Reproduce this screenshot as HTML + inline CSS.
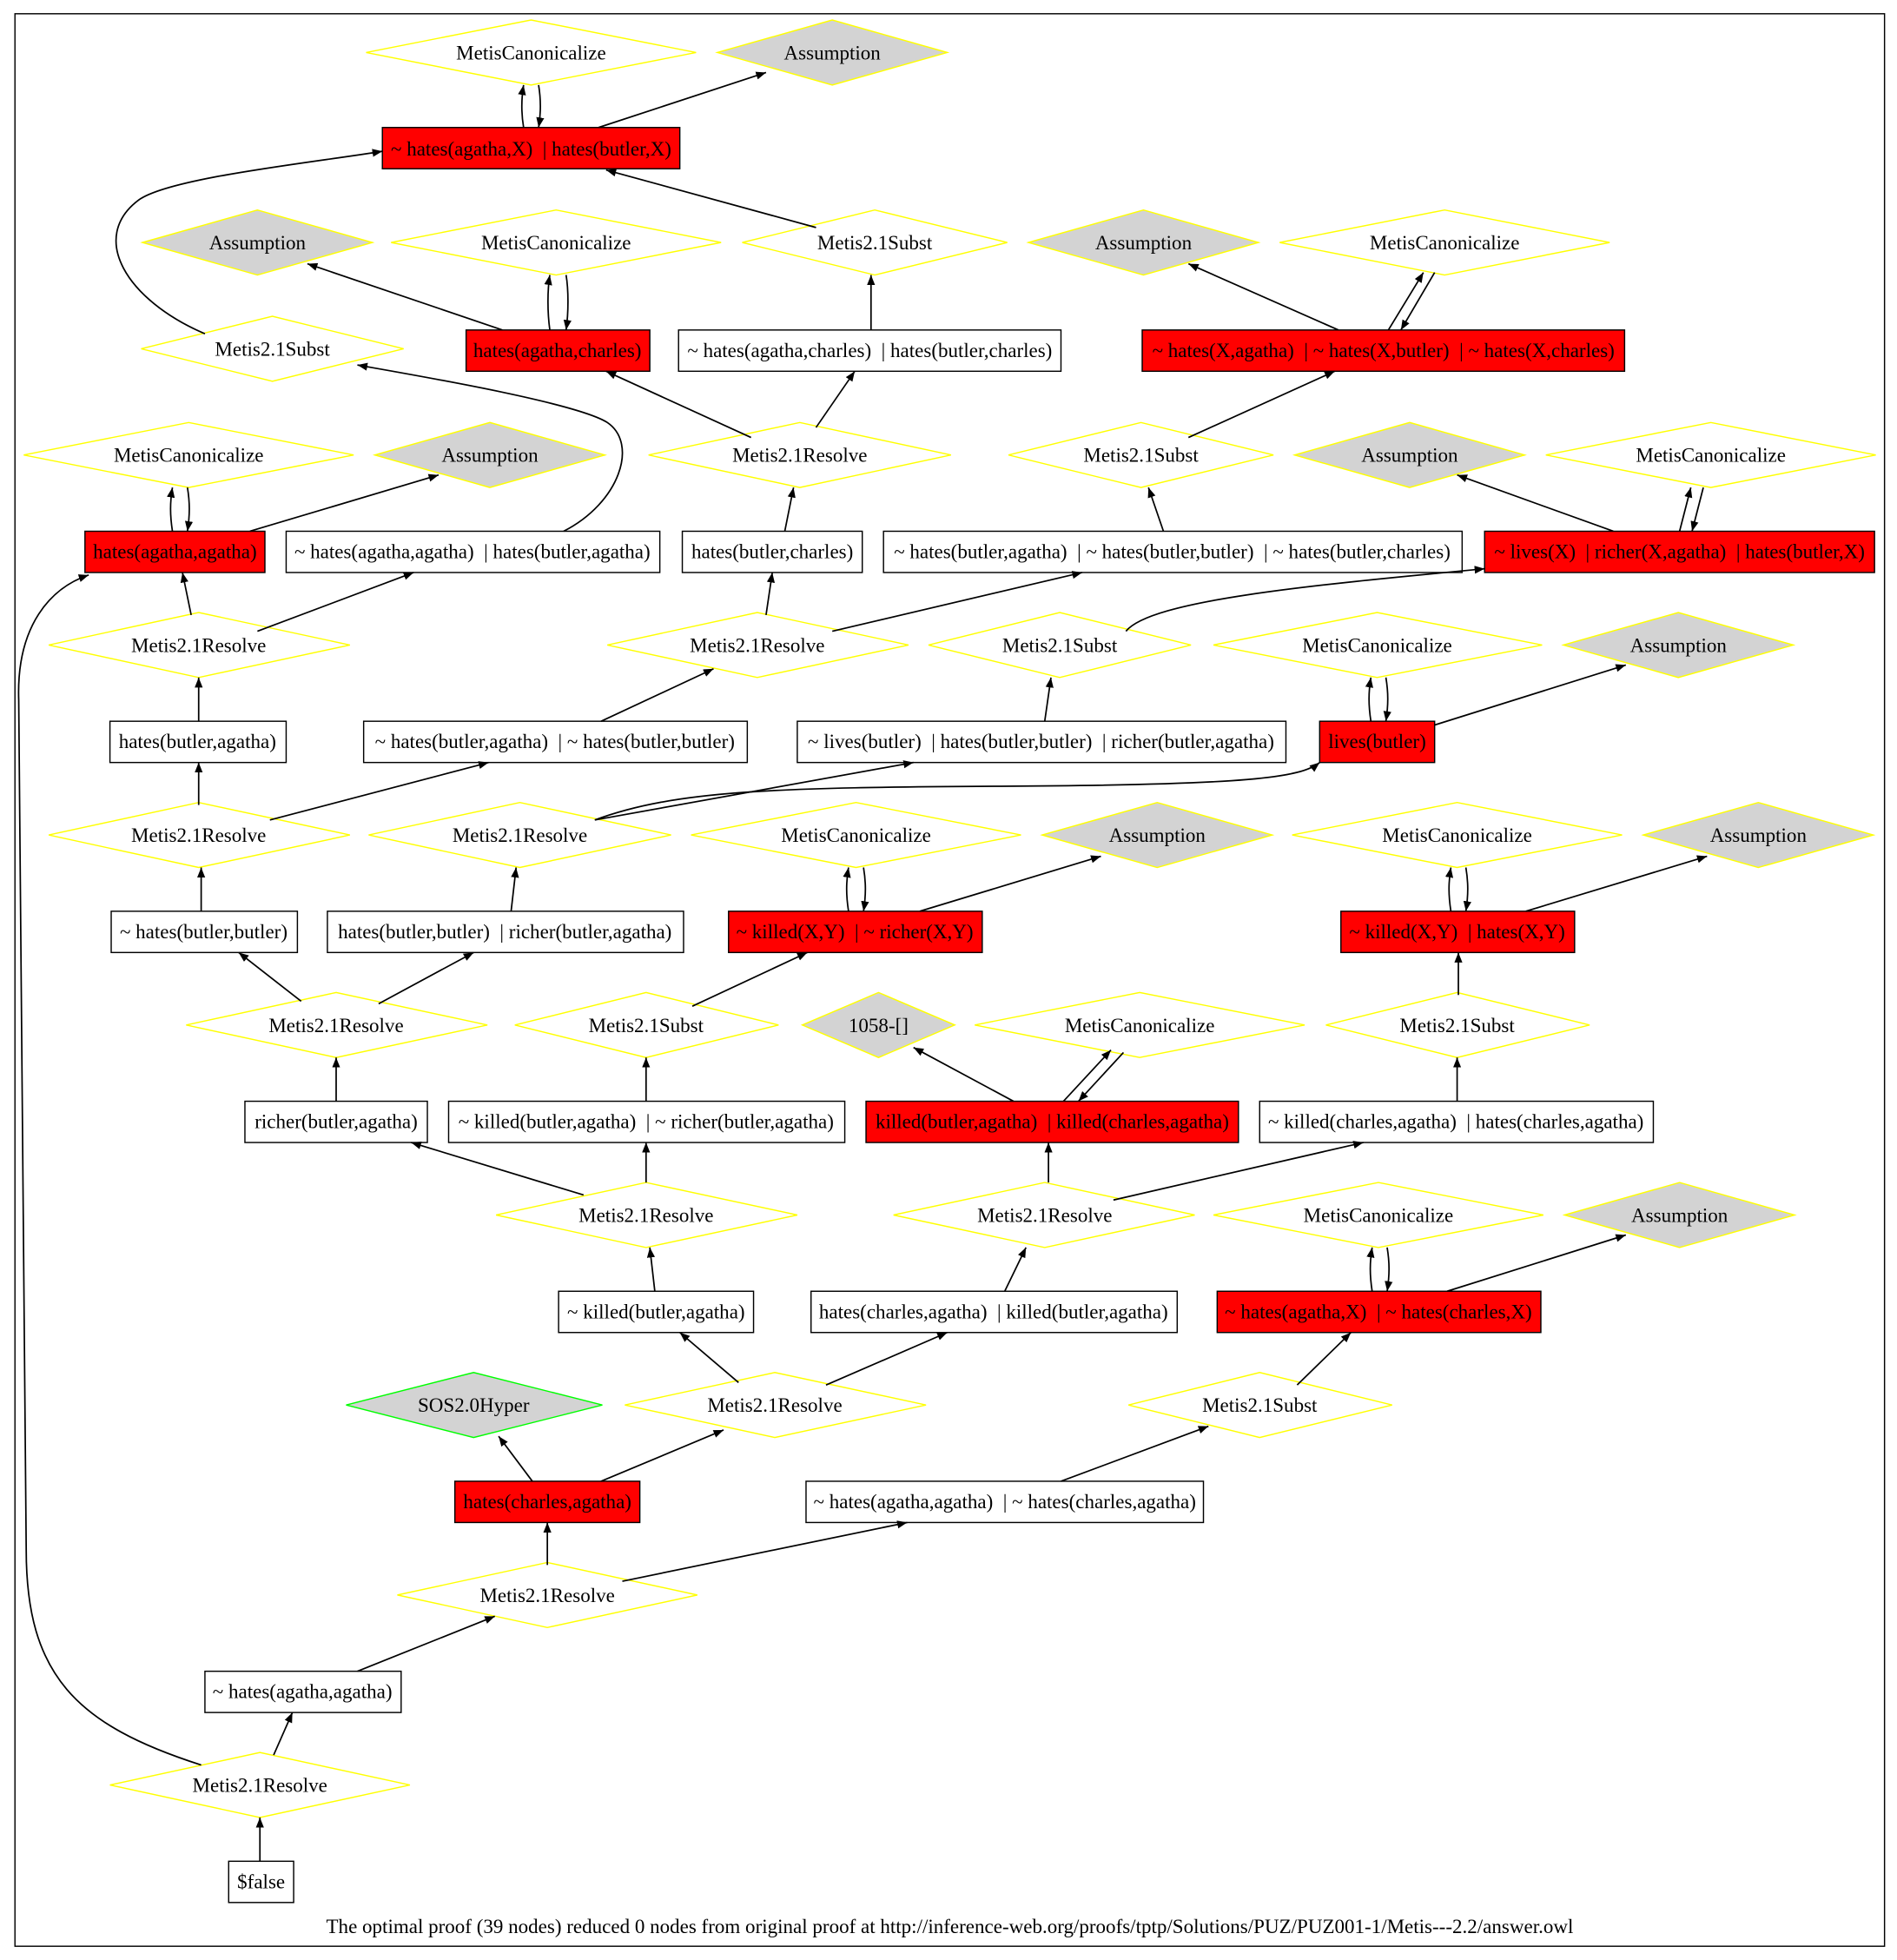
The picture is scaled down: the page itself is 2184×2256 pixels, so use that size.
<!DOCTYPE html>
<html><head><meta charset="utf-8"><style>
html,body{margin:0;padding:0;background:#fff;}
svg{display:block}
text{font-family:"Liberation Serif",serif;font-size:16px;text-anchor:middle;dominant-baseline:central;fill:#000;white-space:pre}
.y{fill:#fff;stroke:#ffff00;stroke-width:1}
.g{fill:#d3d3d3;stroke:#ffff00;stroke-width:1}
.r{fill:#ff0000;stroke:#000;stroke-width:1}
.w{fill:#fff;stroke:#000;stroke-width:1}
.e{fill:none;stroke:#000;stroke-width:1.2;marker-end:url(#a)}
</style></head><body>
<svg width="2184" height="2256" viewBox="0 0 1516 1568" xmlns="http://www.w3.org/2000/svg" xml:space="preserve">
<defs><marker id="a" viewBox="0 0 10 10" refX="10" refY="5" markerWidth="8" markerHeight="8" markerUnits="userSpaceOnUse" orient="auto"><path d="M0,1 L10,5 L0,9 z" fill="#000"/></marker></defs>
<rect x="11" y="11" width="1496" height="1546" fill="#fff" stroke="#000"/>
<g id="nodes">
<polygon class="y" points="292,42 424,16 556,42 424,68"/><text x="424" y="42">MetisCanonicalize</text>
<polygon class="g" points="573,42 665,16 757,42 665,68"/><text x="665" y="42">Assumption</text>
<rect class="r" x="305" y="102" width="238" height="33"/><text x="424" y="119">~ hates(agatha,X)  | hates(butler,X)</text>

<polygon class="g" points="113,194 205,168 297,194 205,220"/><text x="205" y="194">Assumption</text>
<polygon class="y" points="312,194 444,168 576,194 444,220"/><text x="444" y="194">MetisCanonicalize</text>
<polygon class="y" points="593,194 699,168 805,194 699,220"/><text x="699" y="194">Metis2.1Subst</text>
<polygon class="g" points="822,194 914,168 1006,194 914,220"/><text x="914" y="194">Assumption</text>
<polygon class="y" points="1023,194 1155,168 1287,194 1155,220"/><text x="1155" y="194">MetisCanonicalize</text>

<polygon class="y" points="112,279 217,253 322,279 217,305"/><text x="217" y="279">Metis2.1Subst</text>
<rect class="r" x="372" y="264" width="147" height="33"/><text x="445" y="280">hates(agatha,charles)</text>
<rect class="w" x="542" y="264" width="306" height="33"/><text x="695" y="280">~ hates(agatha,charles)  | hates(butler,charles)</text>
<rect class="r" x="913" y="264" width="386" height="33"/><text x="1106" y="280">~ hates(X,agatha)  | ~ hates(X,butler)  | ~ hates(X,charles)</text>

<polygon class="y" points="18,364 150,338 282,364 150,390"/><text x="150" y="364">MetisCanonicalize</text>
<polygon class="g" points="299,364 391,338 483,364 391,390"/><text x="391" y="364">Assumption</text>
<polygon class="y" points="518,364 639,338 760,364 639,390"/><text x="639" y="364">Metis2.1Resolve</text>
<polygon class="y" points="806,364 912,338 1018,364 912,390"/><text x="912" y="364">Metis2.1Subst</text>
<polygon class="g" points="1035,364 1127,338 1219,364 1127,390"/><text x="1127" y="364">Assumption</text>
<polygon class="y" points="1236,364 1368,338 1500,364 1368,390"/><text x="1368" y="364">MetisCanonicalize</text>

<rect class="r" x="67" y="425" width="144" height="33"/><text x="139" y="441">hates(agatha,agatha)</text>
<rect class="w" x="228" y="425" width="299" height="33"/><text x="377" y="441">~ hates(agatha,agatha)  | hates(butler,agatha)</text>
<rect class="w" x="545" y="425" width="144" height="33"/><text x="617" y="441">hates(butler,charles)</text>
<rect class="w" x="706" y="425" width="463" height="33"/><text x="937" y="441">~ hates(butler,agatha)  | ~ hates(butler,butler)  | ~ hates(butler,charles)</text>
<rect class="r" x="1187" y="425" width="312" height="33"/><text x="1343" y="441">~ lives(X)  | richer(X,agatha)  | hates(butler,X)</text>

<polygon class="y" points="38,516 158,490 279,516 158,542"/><text x="158" y="516">Metis2.1Resolve</text>
<polygon class="y" points="485,516 605,490 726,516 605,542"/><text x="605" y="516">Metis2.1Resolve</text>
<polygon class="y" points="742,516 847,490 952,516 847,542"/><text x="847" y="516">Metis2.1Subst</text>
<polygon class="y" points="970,516 1101,490 1233,516 1101,542"/><text x="1101" y="516">MetisCanonicalize</text>
<polygon class="g" points="1250,516 1342,490 1434,516 1342,542"/><text x="1342" y="516">Assumption</text>

<rect class="w" x="87" y="577" width="141" height="33"/><text x="157" y="593">hates(butler,agatha)</text>
<rect class="w" x="290" y="577" width="307" height="33"/><text x="443" y="593">~ hates(butler,agatha)  | ~ hates(butler,butler)</text>
<rect class="w" x="637" y="577" width="391" height="33"/><text x="832" y="593">~ lives(butler)  | hates(butler,butler)  | richer(butler,agatha)</text>
<rect class="r" x="1055" y="577" width="92" height="33"/><text x="1101" y="593">lives(butler)</text>

<polygon class="y" points="38,668 158,642 279,668 158,694"/><text x="158" y="668">Metis2.1Resolve</text>
<polygon class="y" points="294,668 415,642 536,668 415,694"/><text x="415" y="668">Metis2.1Resolve</text>
<polygon class="y" points="552,668 684,642 816,668 684,694"/><text x="684" y="668">MetisCanonicalize</text>
<polygon class="g" points="833,668 925,642 1017,668 925,694"/><text x="925" y="668">Assumption</text>
<polygon class="y" points="1033,668 1165,642 1297,668 1165,694"/><text x="1165" y="668">MetisCanonicalize</text>
<polygon class="g" points="1314,668 1406,642 1498,668 1406,694"/><text x="1406" y="668">Assumption</text>

<rect class="w" x="88" y="729" width="149" height="33"/><text x="162" y="745">~ hates(butler,butler)</text>
<rect class="w" x="261" y="729" width="285" height="33"/><text x="403" y="745">hates(butler,butler)  | richer(butler,agatha)</text>
<rect class="r" x="582" y="729" width="203" height="33"/><text x="683" y="745">~ killed(X,Y)  | ~ richer(X,Y)</text>
<rect class="r" x="1072" y="729" width="187" height="33"/><text x="1165" y="745">~ killed(X,Y)  | hates(X,Y)</text>

<polygon class="y" points="148,820 268,794 389,820 268,846"/><text x="268" y="820">Metis2.1Resolve</text>
<polygon class="y" points="411,820 516,794 622,820 516,846"/><text x="516" y="820">Metis2.1Subst</text>
<polygon class="g" points="641,820 702,794 763,820 702,846"/><text x="702" y="820">1058-[]</text>
<polygon class="y" points="779,820 911,794 1043,820 911,846"/><text x="911" y="820">MetisCanonicalize</text>
<polygon class="y" points="1060,820 1165,794 1271,820 1165,846"/><text x="1165" y="820">Metis2.1Subst</text>

<rect class="w" x="195" y="881" width="146" height="33"/><text x="268" y="897">richer(butler,agatha)</text>
<rect class="w" x="358" y="881" width="317" height="33"/><text x="516" y="897">~ killed(butler,agatha)  | ~ richer(butler,agatha)</text>
<rect class="r" x="692" y="881" width="298" height="33"/><text x="841" y="897">killed(butler,agatha)  | killed(charles,agatha)</text>
<rect class="w" x="1007" y="881" width="315" height="33"/><text x="1164" y="897">~ killed(charles,agatha)  | hates(charles,agatha)</text>

<polygon class="y" points="396,972 516,946 637,972 516,998"/><text x="516" y="972">Metis2.1Resolve</text>
<polygon class="y" points="714,972 835,946 955,972 835,998"/><text x="835" y="972">Metis2.1Resolve</text>
<polygon class="y" points="970,972 1102,946 1234,972 1102,998"/><text x="1102" y="972">MetisCanonicalize</text>
<polygon class="g" points="1251,972 1343,946 1435,972 1343,998"/><text x="1343" y="972">Assumption</text>

<rect class="w" x="446" y="1033" width="156" height="33"/><text x="524" y="1049">~ killed(butler,agatha)</text>
<rect class="w" x="648" y="1033" width="293" height="33"/><text x="794" y="1049">hates(charles,agatha)  | killed(butler,agatha)</text>
<rect class="r" x="973" y="1033" width="259" height="33"/><text x="1102" y="1049">~ hates(agatha,X)  | ~ hates(charles,X)</text>

<polygon points="276,1124 378,1098 481,1124 378,1150" fill="#d3d3d3" stroke="#00ff00"/><text x="378" y="1124">SOS2.0Hyper</text>
<polygon class="y" points="499,1124 619,1098 740,1124 619,1150"/><text x="619" y="1124">Metis2.1Resolve</text>
<polygon class="y" points="902,1124 1007,1098 1113,1124 1007,1150"/><text x="1007" y="1124">Metis2.1Subst</text>

<rect class="r" x="363" y="1185" width="148" height="33"/><text x="437" y="1201">hates(charles,agatha)</text>
<rect class="w" x="644" y="1185" width="318" height="33"/><text x="803" y="1201">~ hates(agatha,agatha)  | ~ hates(charles,agatha)</text>

<polygon class="y" points="317,1276 437,1250 557,1276 437,1302"/><text x="437" y="1276">Metis2.1Resolve</text>
<rect class="w" x="163" y="1337" width="157" height="33"/><text x="241" y="1353">~ hates(agatha,agatha)</text>
<polygon class="y" points="87,1428 207,1402 327,1428 207,1454"/><text x="207" y="1428">Metis2.1Resolve</text>
<rect class="w" x="182" y="1489" width="52" height="33"/><text x="208" y="1505">$false</text>
<text x="759" y="1541">The optimal proof (39 nodes) reduced 0 nodes from original proof at http://inference-web.org/proofs/tptp/Solutions/PUZ/PUZ001-1/Metis---2.2/answer.owl</text>
</g>
<g id="edges">
<path class="e" d="M418,102 C416,90 416,80 418,68"/>
<path class="e" d="M430,68 C432,80 432,90 430,102"/>
<path class="e" d="M478,102 L612,58"/>
<path class="e" d="M652,182 L484,136"/>
<path class="e" d="M163,267 C100,240 70,190 110,160 C135,142 250,130 305,121"/>
<path class="e" d="M401,264 L245,211"/>
<path class="e" d="M439,264 C437,250 437,232 439,220"/>
<path class="e" d="M452,220 C454,232 454,250 452,264"/>
<path class="e" d="M696,264 L696,220"/>
<path class="e" d="M1070,264 L950,211"/>
<path class="e" d="M1110,264 L1138,218"/>
<path class="e" d="M1147,218 L1120,264"/>
<path class="e" d="M600,350 L484,297"/>
<path class="e" d="M652,342 L683,297"/>
<path class="e" d="M950,350 L1067,297"/>
<path class="e" d="M137,425 C135,412 135,402 137,390"/>
<path class="e" d="M149,390 C151,402 151,412 149,425"/>
<path class="e" d="M199,425 L350,380"/>
<path class="e" d="M450,425 C495,402 510,355 485,338 C460,322 330,300 285,292"/>
<path class="e" d="M627,425 L634,390"/>
<path class="e" d="M930,425 L918,390"/>
<path class="e" d="M1290,425 L1165,380"/>
<path class="e" d="M1343,425 L1352,390"/>
<path class="e" d="M1362,390 L1353,425"/>
<path class="e" d="M152,492 L145,458"/>
<path class="e" d="M205,505 L330,458"/>
<path class="e" d="M612,492 L617,458"/>
<path class="e" d="M665,505 L865,458"/>
<path class="e" d="M900,505 C920,480 1050,468 1187,455"/>
<path class="e" d="M1096,577 C1094,564 1094,554 1096,542"/>
<path class="e" d="M1108,542 C1110,554 1110,564 1108,577"/>
<path class="e" d="M1147,580 L1300,532"/>
<path class="e" d="M158,577 L158,542"/>
<path class="e" d="M480,577 L570,535"/>
<path class="e" d="M835,577 L840,542"/>
<path class="e" d="M158,644 L158,610"/>
<path class="e" d="M215,656 L390,610"/>
<path class="e" d="M475,656 L730,610"/>
<path class="e" d="M475,656 C540,632 620,630 800,629 C1000,628 1040,622 1055,610"/>
<path class="e" d="M160,729 L160,694"/>
<path class="e" d="M408,729 L412,694"/>
<path class="e" d="M678,729 C676,716 676,706 678,694"/>
<path class="e" d="M690,694 C692,706 692,716 690,729"/>
<path class="e" d="M735,729 L880,685"/>
<path class="e" d="M1160,729 C1158,716 1158,706 1160,694"/>
<path class="e" d="M1172,694 C1174,706 1174,716 1172,729"/>
<path class="e" d="M1220,729 L1365,685"/>
<path class="e" d="M240,801 L190,762"/>
<path class="e" d="M302,803 L378,762"/>
<path class="e" d="M553,805 L645,762"/>
<path class="e" d="M1166,796 L1166,762"/>
<path class="e" d="M268,881 L268,846"/>
<path class="e" d="M516,881 L516,846"/>
<path class="e" d="M810,881 L730,838"/>
<path class="e" d="M850,881 L888,840"/>
<path class="e" d="M898,842 L862,881"/>
<path class="e" d="M1165,881 L1165,846"/>
<path class="e" d="M466,956 L328,914"/>
<path class="e" d="M516,946 L516,914"/>
<path class="e" d="M838,946 L838,914"/>
<path class="e" d="M890,960 L1090,914"/>
<path class="e" d="M1097,1033 C1095,1020 1095,1010 1097,998"/>
<path class="e" d="M1109,998 C1111,1010 1111,1020 1109,1033"/>
<path class="e" d="M1157,1033 L1300,988"/>
<path class="e" d="M523,1033 L519,998"/>
<path class="e" d="M803,1033 L820,998"/>
<path class="e" d="M590,1106 L543,1066"/>
<path class="e" d="M660,1108 L757,1066"/>
<path class="e" d="M1037,1108 L1080,1066"/>
<path class="e" d="M425,1185 L398,1149"/>
<path class="e" d="M480,1185 L578,1144"/>
<path class="e" d="M848,1185 L966,1141"/>
<path class="e" d="M437,1252 L437,1218"/>
<path class="e" d="M497,1265 L725,1218"/>
<path class="e" d="M285,1337 L395,1293"/>
<path class="e" d="M218,1404 L233,1370"/>
<path class="e" d="M160,1412 C60,1380 20,1340 20,1240 L14,560 C12,500 40,470 70,460"/>
<path class="e" d="M207,1489 L207,1454"/>
</g>
</svg>
</body></html>
